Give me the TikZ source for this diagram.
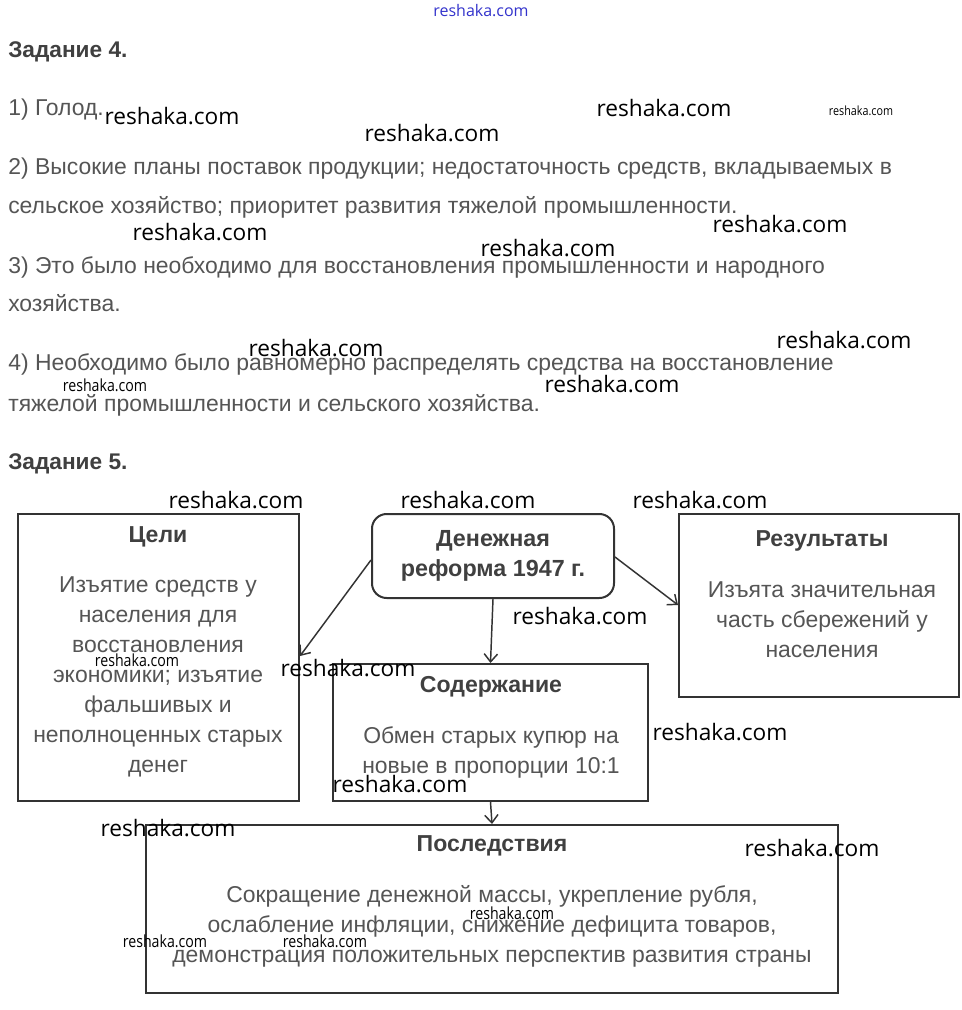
\documentclass[tikz,border=0pt]{standalone}
\usepackage{fontspec}
\setmainfont{Liberation Sans}
\newfontfamily\wmfont{Open Sans}
\newfontfamily\wmnarrow[FakeStretch=0.85]{Open Sans}
\usetikzlibrary{arrows.meta,fit}
\definecolor{txt}{HTML}{555555}
\definecolor{headc}{HTML}{404040}
\definecolor{boxc}{HTML}{333333}
\definecolor{wmblue}{HTML}{3333CC}
\begin{document}
\begin{tikzpicture}[x=0.75pt,y=-0.75pt,
  para/.style={anchor=base west, inner sep=0, text=txt, font=\fontsize{17.2}{20}\selectfont},
  head/.style={anchor=base west, inner sep=0, text=headc, font=\bfseries\fontsize{17}{20}\selectfont},
  box/.style={draw=boxc, line width=1.5pt, inner sep=0},
  ttl/.style={font=\bfseries\fontsize{17.3}{20}\selectfont, text=headc, inner sep=0},
  body/.style={font=\fontsize{17.2}{22.5}\selectfont, text=txt, align=center, inner sep=0},
  wm/.style={font=\wmfont\fontsize{17}{20}\selectfont, inner sep=0, text=black},
  wms/.style={font=\wmnarrow\fontsize{12.5}{14}\selectfont, inner sep=0, text=black},
  wmt/.style={font=\wmnarrow\fontsize{9.5}{10}\selectfont, inner sep=0, text=black},
  arr/.style={-{Straight Barb[length=6pt,width=10pt]}, line width=1.1pt, draw=boxc}]
\useasboundingbox (0,0) rectangle (961,1010);
\fill[white] (0,0) rectangle (961,1010);

% header watermark
\node[font=\wmfont\fontsize{12}{14}\selectfont, text=wmblue, inner sep=0] (wtop) at (481,11) {reshaka.com};

% Task 4
\node[head] (z4) at (8,57) {Задание 4.};
\node[para] (p1) at (8,115) {1) Голод.};
\node[para] (p2a) at (8,174) {2) Высокие планы поставок продукции; недостаточность средств, вкладываемых в};
\node[para] (p2b) at (8,213) {сельское хозяйство; приоритет развития тяжелой промышленности.};
\node[para] (p3a) at (8,273) {3) Это было необходимо для восстановления промышленности и народного};
\node[para] (p3b) at (8,311) {хозяйства.};
\node[para] (p4a) at (8,370) {4) Необходимо было равномерно распределять средства на восстановление};
\node[para] (p4b) at (8,411) {тяжелой промышленности и сельского хозяйства.};
\node[head] (z5) at (8,469) {Задание 5.};

% Boxes
\node[box, fit={(18,514) (299,801)}] (goals) {};
\node[box, rounded corners=11pt, fit={(372,514) (614,598)}] (reform) {};
\node[box, fit={(679,514) (959,697)}] (results) {};
\node[box, fit={(333,664) (648,801)}] (content) {};
\node[box, fit={(146,825) (838,993)}] (conseq) {};

% Box texts
\node[ttl] (goalsT) at (158,537) {Цели};
\node[body] (goalsB) at (158,677) {Изъятие средств у\\населения для\\восстановления\\экономики; изъятие\\фальшивых и\\неполноценных старых\\денег};
\node[ttl, align=center, font=\bfseries\fontsize{17.5}{22.5}\selectfont] (reformT) at (493,556) {Денежная\\реформа 1947 г.};
\node[ttl] (resultsT) at (822,541) {Результаты};
\node[body] (resultsB) at (822,620) {Изъята значительная\\часть сбережений у\\населения};
\node[ttl] (contentT) at (491,687) {Содержание};
\node[body] (contentB) at (491,752) {Обмен старых купюр на\\новые в пропорции 10:1};
\node[ttl] (conseqT) at (492,846) {Последствия};
\node[body] (conseqB) at (492,926) {Сокращение денежной массы, укрепление рубля,\\ослабление инфляции, снижение дефицита товаров,\\демонстрация положительных перспектив развития страны};

% Arrows
\draw[arr] (reform.west |- 0,560) -- (goals.east |- 0,656);
\draw[arr] (reform.south) -- (content.north);
\draw[arr] (reform.east |- 0,557) -- (results.west |- 0,605);
\draw[arr] (content.south) -- (conseq.north);

% Watermarks
\node[wm] (w1) at (172,116) {reshaka.com};
\node[wm] (w2) at (432,133) {reshaka.com};
\node[wm] (w3) at (664,108) {reshaka.com};
\node[wmt] (w4) at (861,111) {reshaka.com};
\node[wm] (w5) at (200,232) {reshaka.com};
\node[wm] (w6) at (548,248) {reshaka.com};
\node[wm] (w7) at (780,224) {reshaka.com};
\node[wm] (w8) at (316,348) {reshaka.com};
\node[wm] (w9) at (844,340) {reshaka.com};
\node[wms] (w10) at (105,385) {reshaka.com};
\node[wm] (w11) at (612,384) {reshaka.com};
\node[wm] (w12) at (236,500) {reshaka.com};
\node[wm] (w13) at (468,500) {reshaka.com};
\node[wm] (w14) at (700,500) {reshaka.com};
\node[wm] (w15) at (580,616) {reshaka.com};
\node[wms] (w16) at (137,660) {reshaka.com};
\node[wm] (w17) at (348,668) {reshaka.com};
\node[wm] (w18) at (720,732) {reshaka.com};
\node[wm] (w19) at (400,784) {reshaka.com};
\node[wm] (w20) at (168,828) {reshaka.com};
\node[wm] (w21) at (812,848) {reshaka.com};
\node[wms] (w22) at (512,913) {reshaka.com};
\node[wms] (w23) at (165,941) {reshaka.com};
\node[wms] (w24) at (325,941) {reshaka.com};
\end{tikzpicture}
\end{document}
